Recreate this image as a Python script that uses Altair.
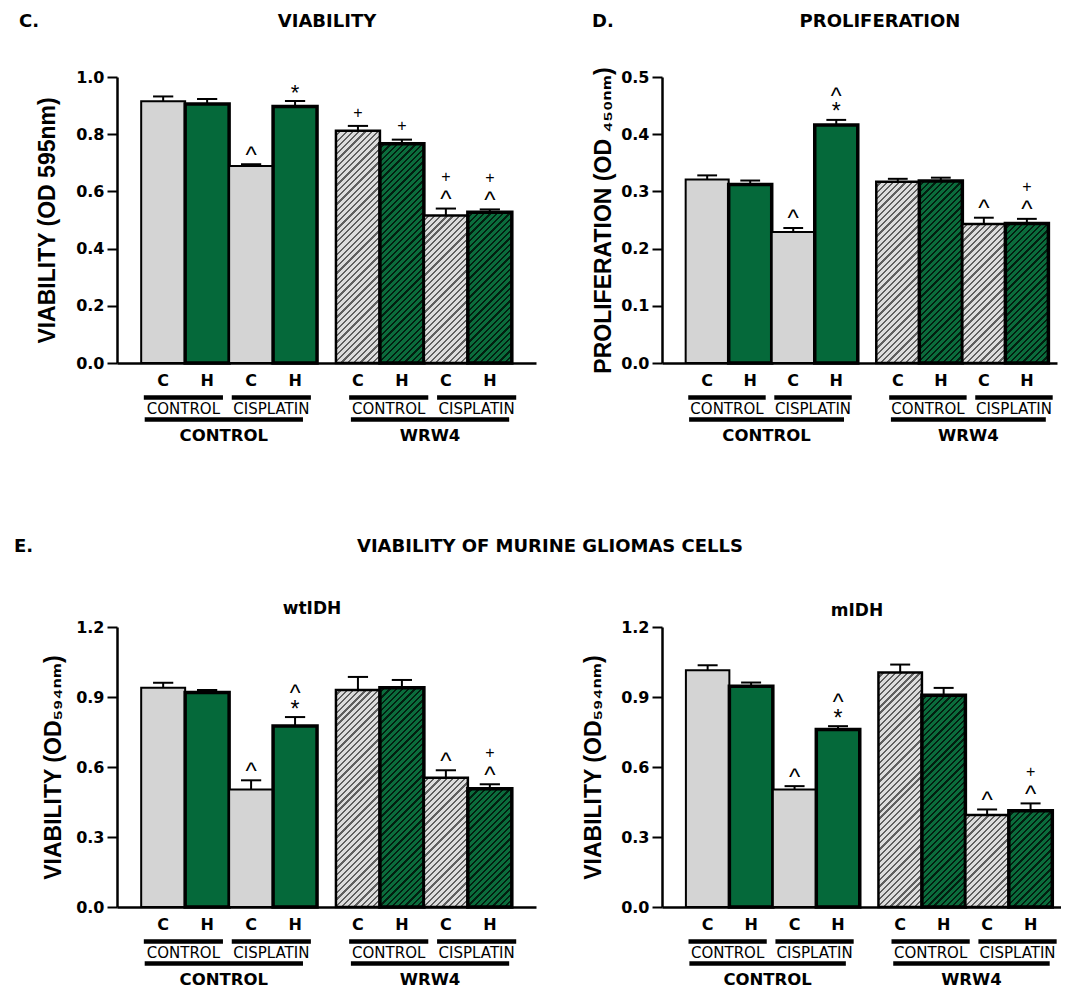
import math
import altair as alt
import pandas as pd

# ---------------- data ----------------
conditions = ["C", "H", "C", "H", "C", "H", "C", "H"]
treatments = ["CONTROL", "CONTROL", "CISPLATIN", "CISPLATIN",
              "CONTROL", "CONTROL", "CISPLATIN", "CISPLATIN"]
pretreatments = ["CONTROL"] * 4 + ["WRW4"] * 4

viability_mean = [0.915, 0.906, 0.689, 0.897, 0.812, 0.767, 0.516, 0.527]
viability_err = [0.017, 0.017, 0.006, 0.019, 0.017, 0.014, 0.024, 0.010]
prolif_mean = [0.321, 0.312, 0.229, 0.416, 0.317, 0.318, 0.243, 0.244]
prolif_err = [0.007, 0.007, 0.007, 0.009, 0.005, 0.006, 0.011, 0.008]
wt_mean = [0.940, 0.919, 0.504, 0.776, 0.930, 0.940, 0.554, 0.507]
wt_err = [0.021, 0.011, 0.039, 0.038, 0.056, 0.033, 0.032, 0.019]
m_mean = [1.015, 0.946, 0.504, 0.761, 1.005, 0.908, 0.394, 0.412]
m_err = [0.021, 0.016, 0.014, 0.014, 0.034, 0.031, 0.024, 0.032]

# significance symbols: (bar index, symbol, stacking level)
viability_marks = [(2, "^", 1), (3, "*", 1), (4, "+", 1), (5, "+", 1),
                   (6, "^", 1), (6, "+", 2), (7, "^", 1), (7, "+", 2)]
prolif_marks = [(2, "^", 1), (3, "*", 1), (3, "^", 2), (6, "^", 1), (7, "^", 1), (7, "+", 2)]
wt_marks = [(2, "^", 1), (3, "*", 1), (3, "^", 2), (6, "^", 1), (7, "^", 1), (7, "+", 2)]
m_marks = [(2, "^", 1), (3, "*", 1), (3, "^", 2), (6, "^", 1), (7, "^", 1), (7, "+", 2)]

viability_ticks = [0, 0.2, 0.4, 0.6, 0.8, 1.0]
prolif_ticks = [0, 0.1, 0.2, 0.3, 0.4, 0.5]
murine_ticks = [0, 0.3, 0.6, 0.9, 1.2]

# ---------------- style ----------------
GRAY = "#d4d4d4"
GREEN = "#05693a"
HATCH_BG = {"C": "#dcdcdc", "H": "#0b6c3c"}
HATCH_FG = {"C": "#5f5f5f", "H": "#021f10"}
GAP = 0.43
XMIN = -0.55
FONT = "DejaVu Sans"
AFONT = "Liberation Sans, DejaVu Sans"
SYMS = {"^": (24, 0.52), "*": (22, 0.585), "+": (16, 0.35)}
LEVEL_OFF = {1: 14, 2: 32}
STACK_FS = 23
STACK_LH = 15.5


def bar_x0(i):
    return i + (GAP if i >= 4 else 0.0)


def hatch_gradient(w, h, bg, fg, period=4.4, line_frac=0.36):
    r = h / w
    a = (1 + r) / (1 + r * r)
    diag = (w + h) / math.sqrt(2)
    n = max(1, int(round(diag / period)))
    stops = []
    for k in range(n):
        t0 = k / n
        t1 = (k + 1 - line_frac) / n
        t2 = (k + 1) / n
        stops += [alt.GradientStop(color=bg, offset=t0), alt.GradientStop(color=bg, offset=t1),
                  alt.GradientStop(color=fg, offset=t1), alt.GradientStop(color=fg, offset=t2)]
    return alt.LinearGradient(gradient="linear", stops=stops, x1=0, y1=0, x2=a, y2=a * r)


def text_layer(text, px, py, origin, size, weight="bold", align="center", font=FONT):
    ox, oy = origin
    return alt.Chart(pd.DataFrame({"t": [text]})).mark_text(
        font=font, fontSize=size, fontWeight=weight, align=align, baseline="middle", color="black"
    ).encode(x=alt.value(px - ox), y=alt.value(py - oy), text="t:N")


def make_panel(mean, err, marks, ymax, ticks, ytitle, width, height, xmax, origin,
               title_x, texts, anchor=False):
    n = len(mean)
    df = pd.DataFrame({
        "idx": list(range(n)),
        "cond": conditions,
        "hatched": [i >= 4 for i in range(n)],
        "x0": [bar_x0(i) for i in range(n)],
        "mean": mean,
        "top": [m + e for m, e in zip(mean, err)],
    })
    df["x1"] = df["x0"] + 1
    df["xc"] = df["x0"] + 0.5
    df["zero"] = 0.0
    df["capl"] = df["xc"] - 0.23
    df["capr"] = df["xc"] + 0.23

    xscale = alt.Scale(domain=[XMIN, xmax], nice=False, zero=False)
    yscale = alt.Scale(domain=[0, ymax], nice=False, zero=True)
    xaxis = alt.Axis(labels=False, ticks=False, grid=False, title=None,
                     domainWidth=2.5, domainColor="black")
    yaxis = alt.Axis(values=ticks, format=".1f", title=ytitle, titleX=title_x, titleY=height / 2,
                     titleAngle=270, titleAlign="center", titleBaseline="middle",
                     titleFont=AFONT, titleFontSize=23, titleFontWeight="bold", titleColor="black",
                     labelFont=FONT, labelFontSize=16, labelFontWeight="bold", labelColor="black",
                     labelPadding=3, tickSize=10, tickWidth=2, tickColor="black",
                     domainWidth=2.5, domainColor="black", grid=False)

    def X(f):
        return alt.X(f, type="quantitative", scale=xscale, axis=xaxis)

    def Y(f):
        return alt.Y(f, type="quantitative", scale=yscale, axis=yaxis)

    base = alt.Chart(df)
    layers = []
    layers.append(base.transform_filter("!datum.hatched").mark_bar(stroke="black").encode(
        x=X("x0"), x2="x1:Q", y=Y("mean"), y2="zero:Q",
        fill=alt.Fill("cond:N", scale=alt.Scale(domain=["C", "H"], range=[GRAY, GREEN]), legend=None),
        strokeWidth=alt.StrokeWidth("cond:N", scale=alt.Scale(domain=["C", "H"], range=[2.0, 3.5]),
                                    legend=None),
    ))
    px_per_unit = width / (xmax - XMIN)
    for i in range(4, 8):
        c = conditions[i]
        grad = hatch_gradient(px_per_unit, mean[i] / ymax * height, HATCH_BG[c], HATCH_FG[c])
        layers.append(base.transform_filter(f"datum.idx == {i}").mark_bar(
            fill=grad, stroke="black", strokeWidth=3.5 if c == "H" else 2.5
        ).encode(x=X("x0"), x2="x1:Q", y=Y("mean"), y2="zero:Q"))

    # error bars (upper half)
    layers.append(base.mark_rule(color="black", strokeWidth=2).encode(x=X("xc"), y=Y("mean"), y2="top:Q"))
    layers.append(base.mark_rule(color="black", strokeWidth=2).encode(x=X("capl"), x2="capr:Q", y=Y("top")))

    # significance symbols
    singles = []
    stacks = []
    for i in range(n):
        syms = [s for (j, s, l) in sorted(marks, key=lambda m: m[2]) if j == i]
        if syms == ["*", "^"]:
            stacks.append({"xc": bar_x0(i) + 0.5, "top": mean[i] + err[i], "sym": "^\n*"})
        else:
            for (j, s, l) in marks:
                if j == i:
                    singles.append({"xc": bar_x0(i) + 0.5, "top": mean[i] + err[i], "sym": s, "lvl": l})
    ann = pd.DataFrame(singles)
    for (s, l) in sorted(set(zip(ann["sym"], ann["lvl"]))):
        fs, cfrac = SYMS[s]
        sub = ann[(ann["sym"] == s) & (ann["lvl"] == l)]
        layers.append(alt.Chart(sub).mark_text(
            font=AFONT, fontSize=fs, baseline="alphabetic", color="black",
            dy=-LEVEL_OFF[l] + cfrac * fs
        ).encode(x=X("xc"), y=Y("top"), text="sym:N"))
    if stacks:
        dy_stack = -LEVEL_OFF[1] + SYMS["*"][1] * STACK_FS - STACK_LH
        layers.append(alt.Chart(pd.DataFrame(stacks)).mark_text(
            font=AFONT, fontSize=STACK_FS, baseline="alphabetic", color="black",
            lineBreak="\n", lineHeight=STACK_LH, dy=dy_stack
        ).encode(x=X("xc"), y=Y("top"), text="sym:N"))

    # category labels under the axis
    layers.append(base.mark_text(font=FONT, fontSize=16, fontWeight="bold", baseline="middle",
                                 color="black").encode(x=X("xc"), y=alt.value(height + 18), text="cond:N"))
    pairs = []
    for p in range(4):
        i = 2 * p
        s = bar_x0(i) + (0.06 if i < 4 else 0.3)
        pairs.append({"start": s, "end": s + 1.8, "mid": s + 0.9, "label": treatments[i]})
    pairs = pd.DataFrame(pairs)
    grps = []
    for g in range(2):
        i = 4 * g
        s = bar_x0(i) + (0.08 if g == 0 else 0.34)
        grps.append({"start": s, "end": s + 3.6, "mid": s + 1.8, "label": pretreatments[i]})
    grps = pd.DataFrame(grps)
    layers.append(alt.Chart(pairs).mark_rule(color="black", strokeWidth=4.5).encode(
        x=X("start"), x2="end:Q", y=alt.value(height + 34.5)))
    layers.append(alt.Chart(pairs).mark_text(font=FONT, fontSize=15, baseline="middle", color="black").encode(
        x=X("mid"), y=alt.value(height + 45.5), text="label:N"))
    layers.append(alt.Chart(grps).mark_rule(color="black", strokeWidth=4.5).encode(
        x=X("start"), x2="end:Q", y=alt.value(height + 56.5)))
    layers.append(alt.Chart(grps).mark_text(font=FONT, fontSize=16.5, fontWeight="bold", baseline="middle",
                                            color="black").encode(
        x=X("mid"), y=alt.value(height + 72.5), text="label:N"))

    for (t, px, py, size, align) in texts:
        layers.append(text_layer(t, px, py, origin, size, align=align))

    if anchor:
        ox, oy = origin
        layers.append(alt.Chart(pd.DataFrame({"a": [0]})).mark_rule(strokeOpacity=0, opacity=0).encode(
            x=alt.value(8 - ox), x2=alt.value(9 - ox), y=alt.value(8 - oy), y2=alt.value(8 - oy)))

    return alt.layer(*layers).properties(width=width, height=height)


H1 = 286
H2 = 280
C_ORIGIN = (117, 77)
D_ORIGIN = (662, 77)
WT_ORIGIN = (117, 627)
M_ORIGIN = (662, 627)

panel_c = make_panel(viability_mean, viability_err, viability_marks, 1.0, viability_ticks,
                     "VIABILITY (OD 595nm)", 419, H1, 8.98, C_ORIGIN, 47 - 117,
                     [("C.", 19, 22, 18, "left"), ("VIABILITY", 327, 22, 18, "center")], anchor=True)
panel_d = make_panel(prolif_mean, prolif_err, prolif_marks, 0.5, prolif_ticks,
                     "PROLIFERATION (OD \u2084\u2085\u2080\u2099\u2098)", 395, H1, 8.63, D_ORIGIN, 603 - 662,
                     [("D.", 592, 22, 18, "left"), ("PROLIFERATION", 880, 22, 18, "center")])
panel_wt = make_panel(wt_mean, wt_err, wt_marks, 1.2, murine_ticks,
                      "VIABILITY (OD\u2085\u2089\u2084\u2099\u2098)", 419, H2, 8.98, WT_ORIGIN, 53 - 117,
                      [("E.", 14, 547, 18, "left"),
                       ("VIABILITY OF MURINE GLIOMAS CELLS", 550, 547, 18, "center"),
                       ("wtIDH", 312, 609, 17, "center")])
panel_m = make_panel(m_mean, m_err, m_marks, 1.2, murine_ticks,
                     "VIABILITY (OD\u2085\u2089\u2084\u2099\u2098)", 399, H2, 8.63, M_ORIGIN, 593 - 662,
                     [("mIDH", 857, 611, 17, "center")])

chart = alt.concat(panel_c, panel_d, panel_wt, panel_m, columns=2,
                   spacing={"row": 264, "column": 126}, bounds="flush", align="each"
                   ).properties(padding=0, background="white").configure_view(stroke=None)

chart.save("out.html", embed_options={"renderer": "svg", "actions": False})
